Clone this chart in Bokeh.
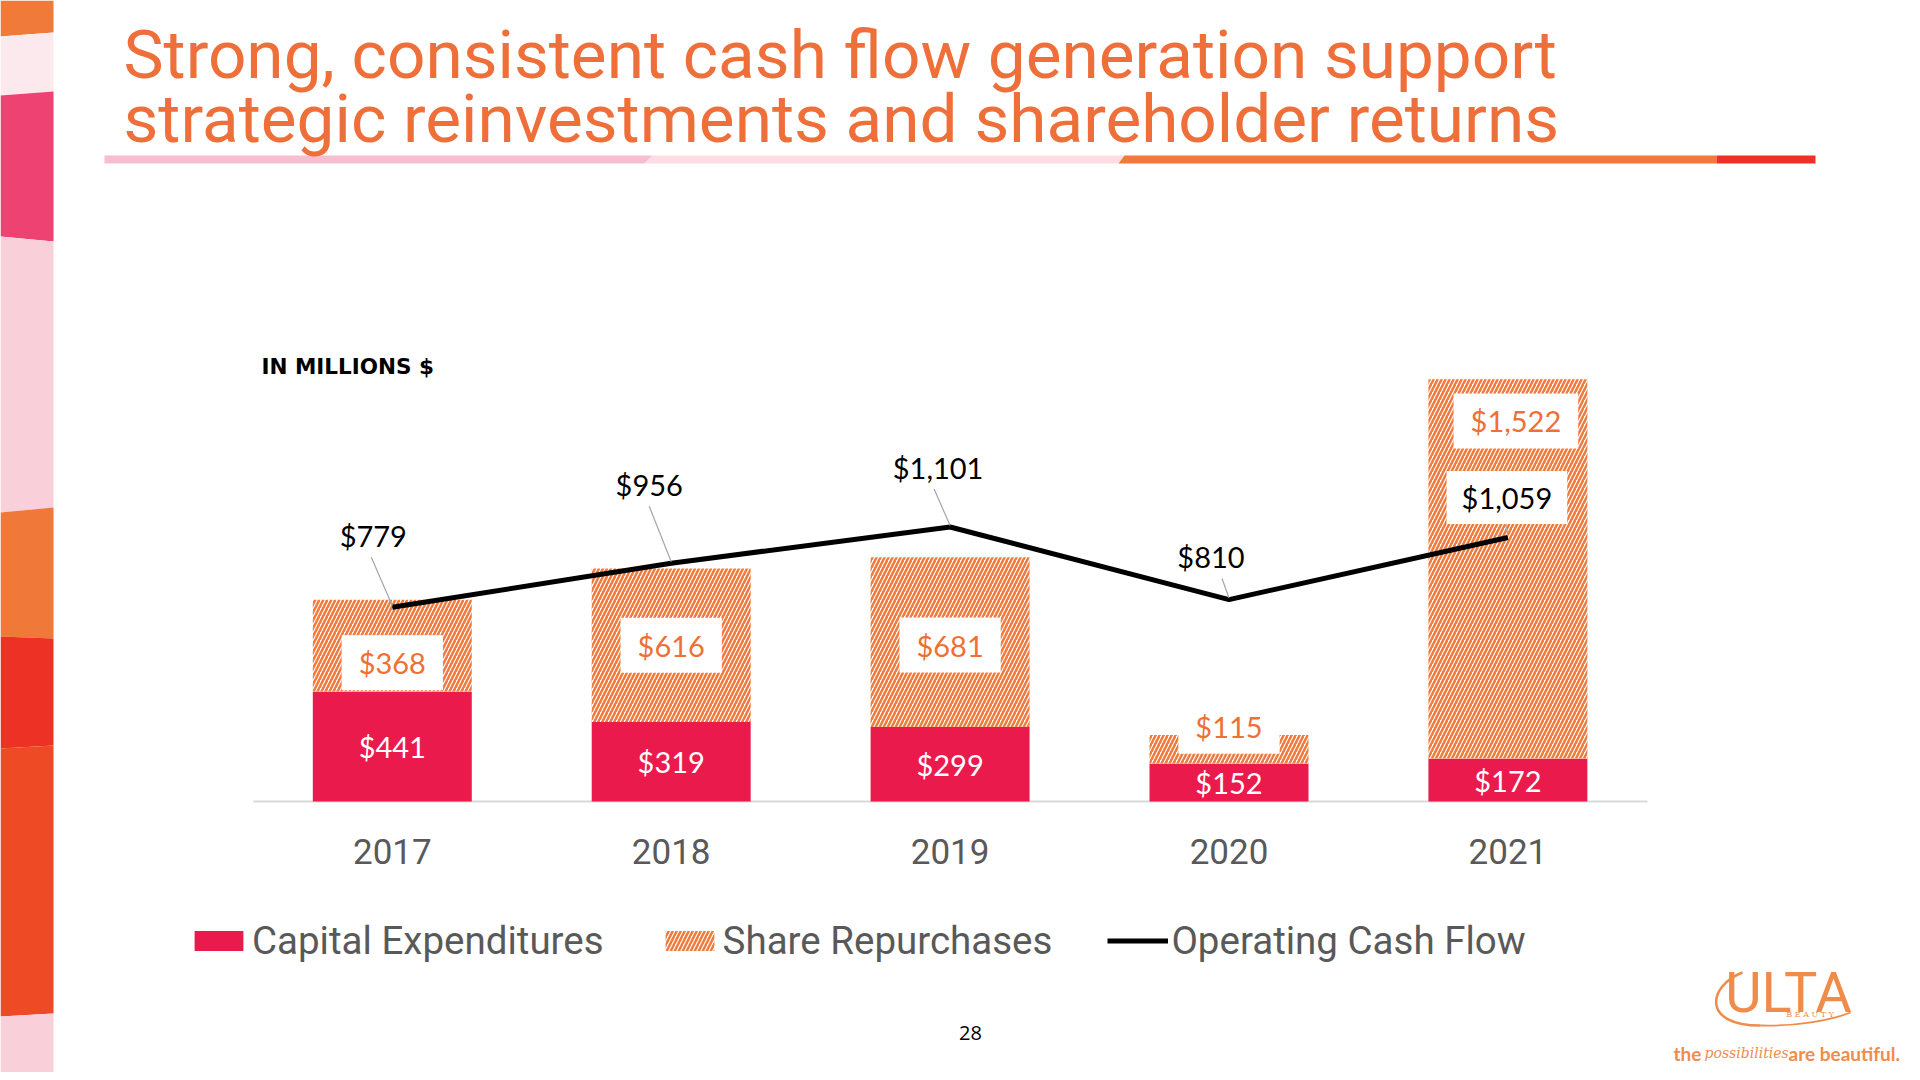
import numpy as np
from bokeh.plotting import figure
from bokeh.models import Range1d, Label, ColumnDataSource, Legend, LegendItem
from bokeh.core.properties import value
from bokeh.embed import file_html
from bokeh.resources import INLINE

# ---------------- data ----------------
years = ["2017", "2018", "2019", "2020", "2021"]
capex = [441, 319, 299, 152, 172]
repurchases = [368, 616, 681, 115, 1522]
operating_cash_flow = [779, 956, 1101, 810, 1059]

title_lines = ["Strong, consistent cash flow generation support",
               "strategic reinvestments and shareholder returns"]
unit_note = "IN MILLIONS $"
series_names = ["Capital Expenditures", "Share Repurchases", "Operating Cash Flow"]
page_number = "28"

# ---------------- layout (reference pixel geometry) ----------------
W, H = 1912, 1072
BAR0_PX, STEP_PX = 391.8, 278.9     # x of first bar centre, spacing
BASE_PX, UNIT_PX = 801.0, 0.2493    # baseline y, pixels per $M
BAR_W = 0.57

def dx(X):
    return (X - BAR0_PX) / STEP_PX

def dy(Y):
    return (BASE_PX - Y) / UNIT_PX

# label placement tweaks (pixels)
rep_label_shift_up = [-17, 0, -3, 23, 148]
rep_label_shift_x = [0, 0, 0, 0, 8]
ocf_label_dx = [-19, -22, -12, -18, -1]
ocf_label_up = [72, 79, 60, 43, 40]
ocf_leader_dx = [-2, 0, -4, 11, -2]

CAPEX_C = "#EB1A4D"
ORANGE = "#EF6F3A"
GRAY_TXT = "#595959"
NUM_FONT = "Lato"
TXT_FONT = "Roboto"

p = figure(width=W, height=H,
           x_range=Range1d(dx(0), dx(W)),
           y_range=Range1d(dy(H), dy(0)),
           output_backend="svg", toolbar_location=None, tools="",
           x_axis_location=None, y_axis_location=None,
           min_border=0, outline_line_color=None,
           background_fill_color="white", border_fill_color="white")
p.grid.visible = False

# ---------------- decorations: left strip ----------------
bounds = [(0, 0), (36, 32), (95, 91), (236, 241), (512, 507), (636, 638),
          (748, 745), (1016, 1013), (1080, 1080)]
strip_cols = ["#F07A3A", "#FBE9EE", "#EE4272", "#F9CFDA", "#F07838",
              "#EE3125", "#EE4A25", "#F9CFDA"]
xs, ys = [], []
for i in range(len(strip_cols)):
    (a0, b0), (a1, b1) = bounds[i], bounds[i + 1]
    xs.append([dx(0), dx(53), dx(53), dx(0)])
    ys.append([dy(a0), dy(b0), dy(b1), dy(a1)])
p.patches(xs, ys, fill_color=strip_cols, line_color=None)

# title underline
ul_top, ul_bot = 155, 163
ul = [((104, 104), (652, 644), "#F7BED0"),
      ((652, 644), (1124, 1118), "#FCDDE4"),
      ((1124, 1118), (1716, 1716), "#F07A3A"),
      ((1716, 1716), (1815, 1815), "#EE3124")]
xs, ys, cs = [], [], []
for (l0, l1), (r0, r1), c in ul:
    xs.append([dx(l0), dx(r0), dx(r1), dx(l1)])
    ys.append([dy(ul_top), dy(ul_top), dy(ul_bot), dy(ul_bot)])
    cs.append(c)
p.patches(xs, ys, fill_color=cs, line_color=None)

# title
for line, mid in zip(title_lines, [54, 118]):
    p.add_layout(Label(x=dx(123), y=dy(mid), text=line, text_font=TXT_FONT,
                       text_font_size="67.5px", text_color=ORANGE,
                       text_align="left", text_baseline="middle"))

p.add_layout(Label(x=dx(261), y=dy(366), text=unit_note, text_font="DejaVu Sans",
                   text_font_size="21.5px", text_font_style="bold", text_color="black",
                   text_align="left", text_baseline="middle"))

# baseline
p.segment(x0=[dx(253)], y0=[0], x1=[dx(1647)], y1=[0], line_color="#D9D9D9", line_width=2)

# ---------------- bars ----------------
xi = np.arange(len(years), dtype=float)
cap = np.array(capex, float)
rep = np.array(repurchases, float)
ocf = np.array(operating_cash_flow, float)

src = ColumnDataSource(dict(x=xi, capex=cap, top=cap + rep))
r_cap = p.vbar(x="x", width=BAR_W, bottom=0, top="capex", source=src,
               fill_color=CAPEX_C, line_color=None)
r_rep = p.vbar(x="x", width=BAR_W, bottom="capex", top="top", source=src,
               fill_color="white", line_color=None,
               hatch_pattern="/", hatch_color="#F07A3A", hatch_weight=2.5, hatch_scale=8)

def money(v):
    return "${:,}".format(int(round(v)))

# capex labels (white)
p.text(x=xi, y=cap / 2, text=[money(v) for v in cap],
       text_font=value(NUM_FONT), text_font_size="29px", text_color="white",
       text_align="center", text_baseline="middle")

# repurchase labels (orange on white box)
rep_y = cap + rep / 2 + np.array(rep_label_shift_up) / UNIT_PX
rep_x = xi + np.array(rep_label_shift_x) / STEP_PX
p.text(x=rep_x, y=rep_y, text=[money(v) for v in rep],
       text_font=value(NUM_FONT), text_font_size="29px", text_color="#EE7034",
       text_align="center", text_baseline="middle",
       background_fill_color="white",
       padding=dict(left=17, right=17, top=10, bottom=10))

# ---------------- operating cash flow line ----------------
r_line = p.line(x=xi, y=ocf, line_color="black", line_width=5)

lab_x = xi + np.array(ocf_label_dx) / STEP_PX
lab_y = ocf + np.array(ocf_label_up) / UNIT_PX
lead_x0 = lab_x + np.array(ocf_leader_dx) / STEP_PX
lead_y0 = lab_y - 22 / UNIT_PX
p.segment(x0=lead_x0, y0=lead_y0, x1=xi, y1=ocf + 1.5 / UNIT_PX,
          line_color="#A6A6A6", line_width=1.2)
p.text(x=lab_x, y=lab_y, text=[money(v) for v in ocf],
       text_font=value(NUM_FONT), text_font_size="29px", text_color="black",
       text_align="center", text_baseline="middle",
       background_fill_color=[None, None, None, None, "white"],
       padding=dict(left=15, right=15, top=9, bottom=9))

# year labels
p.text(x=xi, y=[dy(851)] * len(years), text=years,
       text_font=value(TXT_FONT), text_font_size="35px", text_color=GRAY_TXT,
       text_align="center", text_baseline="middle")

# ---------------- legend ----------------
legend = Legend(items=[LegendItem(label=series_names[0], renderers=[r_cap]),
                       LegendItem(label=series_names[1], renderers=[r_rep]),
                       LegendItem(label=series_names[2], renderers=[r_line])],
                orientation="horizontal", location=(188, 109),
                glyph_width=61, glyph_height=25, label_standoff=3, spacing=55,
                padding=0, margin=0, border_line_color=None,
                background_fill_alpha=0,
                label_text_font=TXT_FONT, label_text_font_size="38.5px",
                label_text_color=GRAY_TXT)
p.add_layout(legend)

# page number
p.add_layout(Label(x=dx(970), y=dy(1032), text=page_number, text_font="Open Sans",
                   text_font_size="20px", text_color="black",
                   text_align="center", text_baseline="middle"))

# ---------------- logo ----------------
LOGO = "#F08C4A"
p.bezier(x0=[dx(1742)], y0=[dy(972)], x1=[dx(1760)], y1=[dy(1025)],
         cx0=[dx(1708)], cy0=[dy(985)], cx1=[dx(1700)], cy1=[dy(1025)],
         line_color=LOGO, line_width=2.5)
p.bezier(x0=[dx(1760)], y0=[dy(1025)], x1=[dx(1850)], y1=[dy(1012)],
         cx0=[dx(1795)], cy0=[dy(1026)], cx1=[dx(1830)], cy1=[dy(1020)],
         line_color=LOGO, line_width=1.8)
p.add_layout(Label(x=dx(1788), y=dy(992), text="ULTA", text_font=TXT_FONT,
                   text_font_size="56px", text_color=LOGO,
                   text_align="center", text_baseline="middle"))
p.add_layout(Label(x=dx(1816), y=dy(1014), text="B  E  A  U  T  Y", text_font="DejaVu Serif",
                   text_font_size="8px", text_color=LOGO,
                   text_align="center", text_baseline="middle"))
p.add_layout(Label(x=dx(1673), y=dy(1053), text="the", text_font=NUM_FONT,
                   text_font_size="19px", text_font_style="bold", text_color=LOGO,
                   text_align="left", text_baseline="middle"))
p.add_layout(Label(x=dx(1704), y=dy(1052), text="possibilities", text_font="DejaVu Serif",
                   text_font_size="14px", text_font_style="italic", text_color=LOGO,
                   text_align="left", text_baseline="middle"))
p.add_layout(Label(x=dx(1788), y=dy(1053), text="are beautiful.", text_font=NUM_FONT,
                   text_font_size="19px", text_font_style="bold", text_color=LOGO,
                   text_align="left", text_baseline="middle"))

open("out.html", "w").write(file_html(p, INLINE))
